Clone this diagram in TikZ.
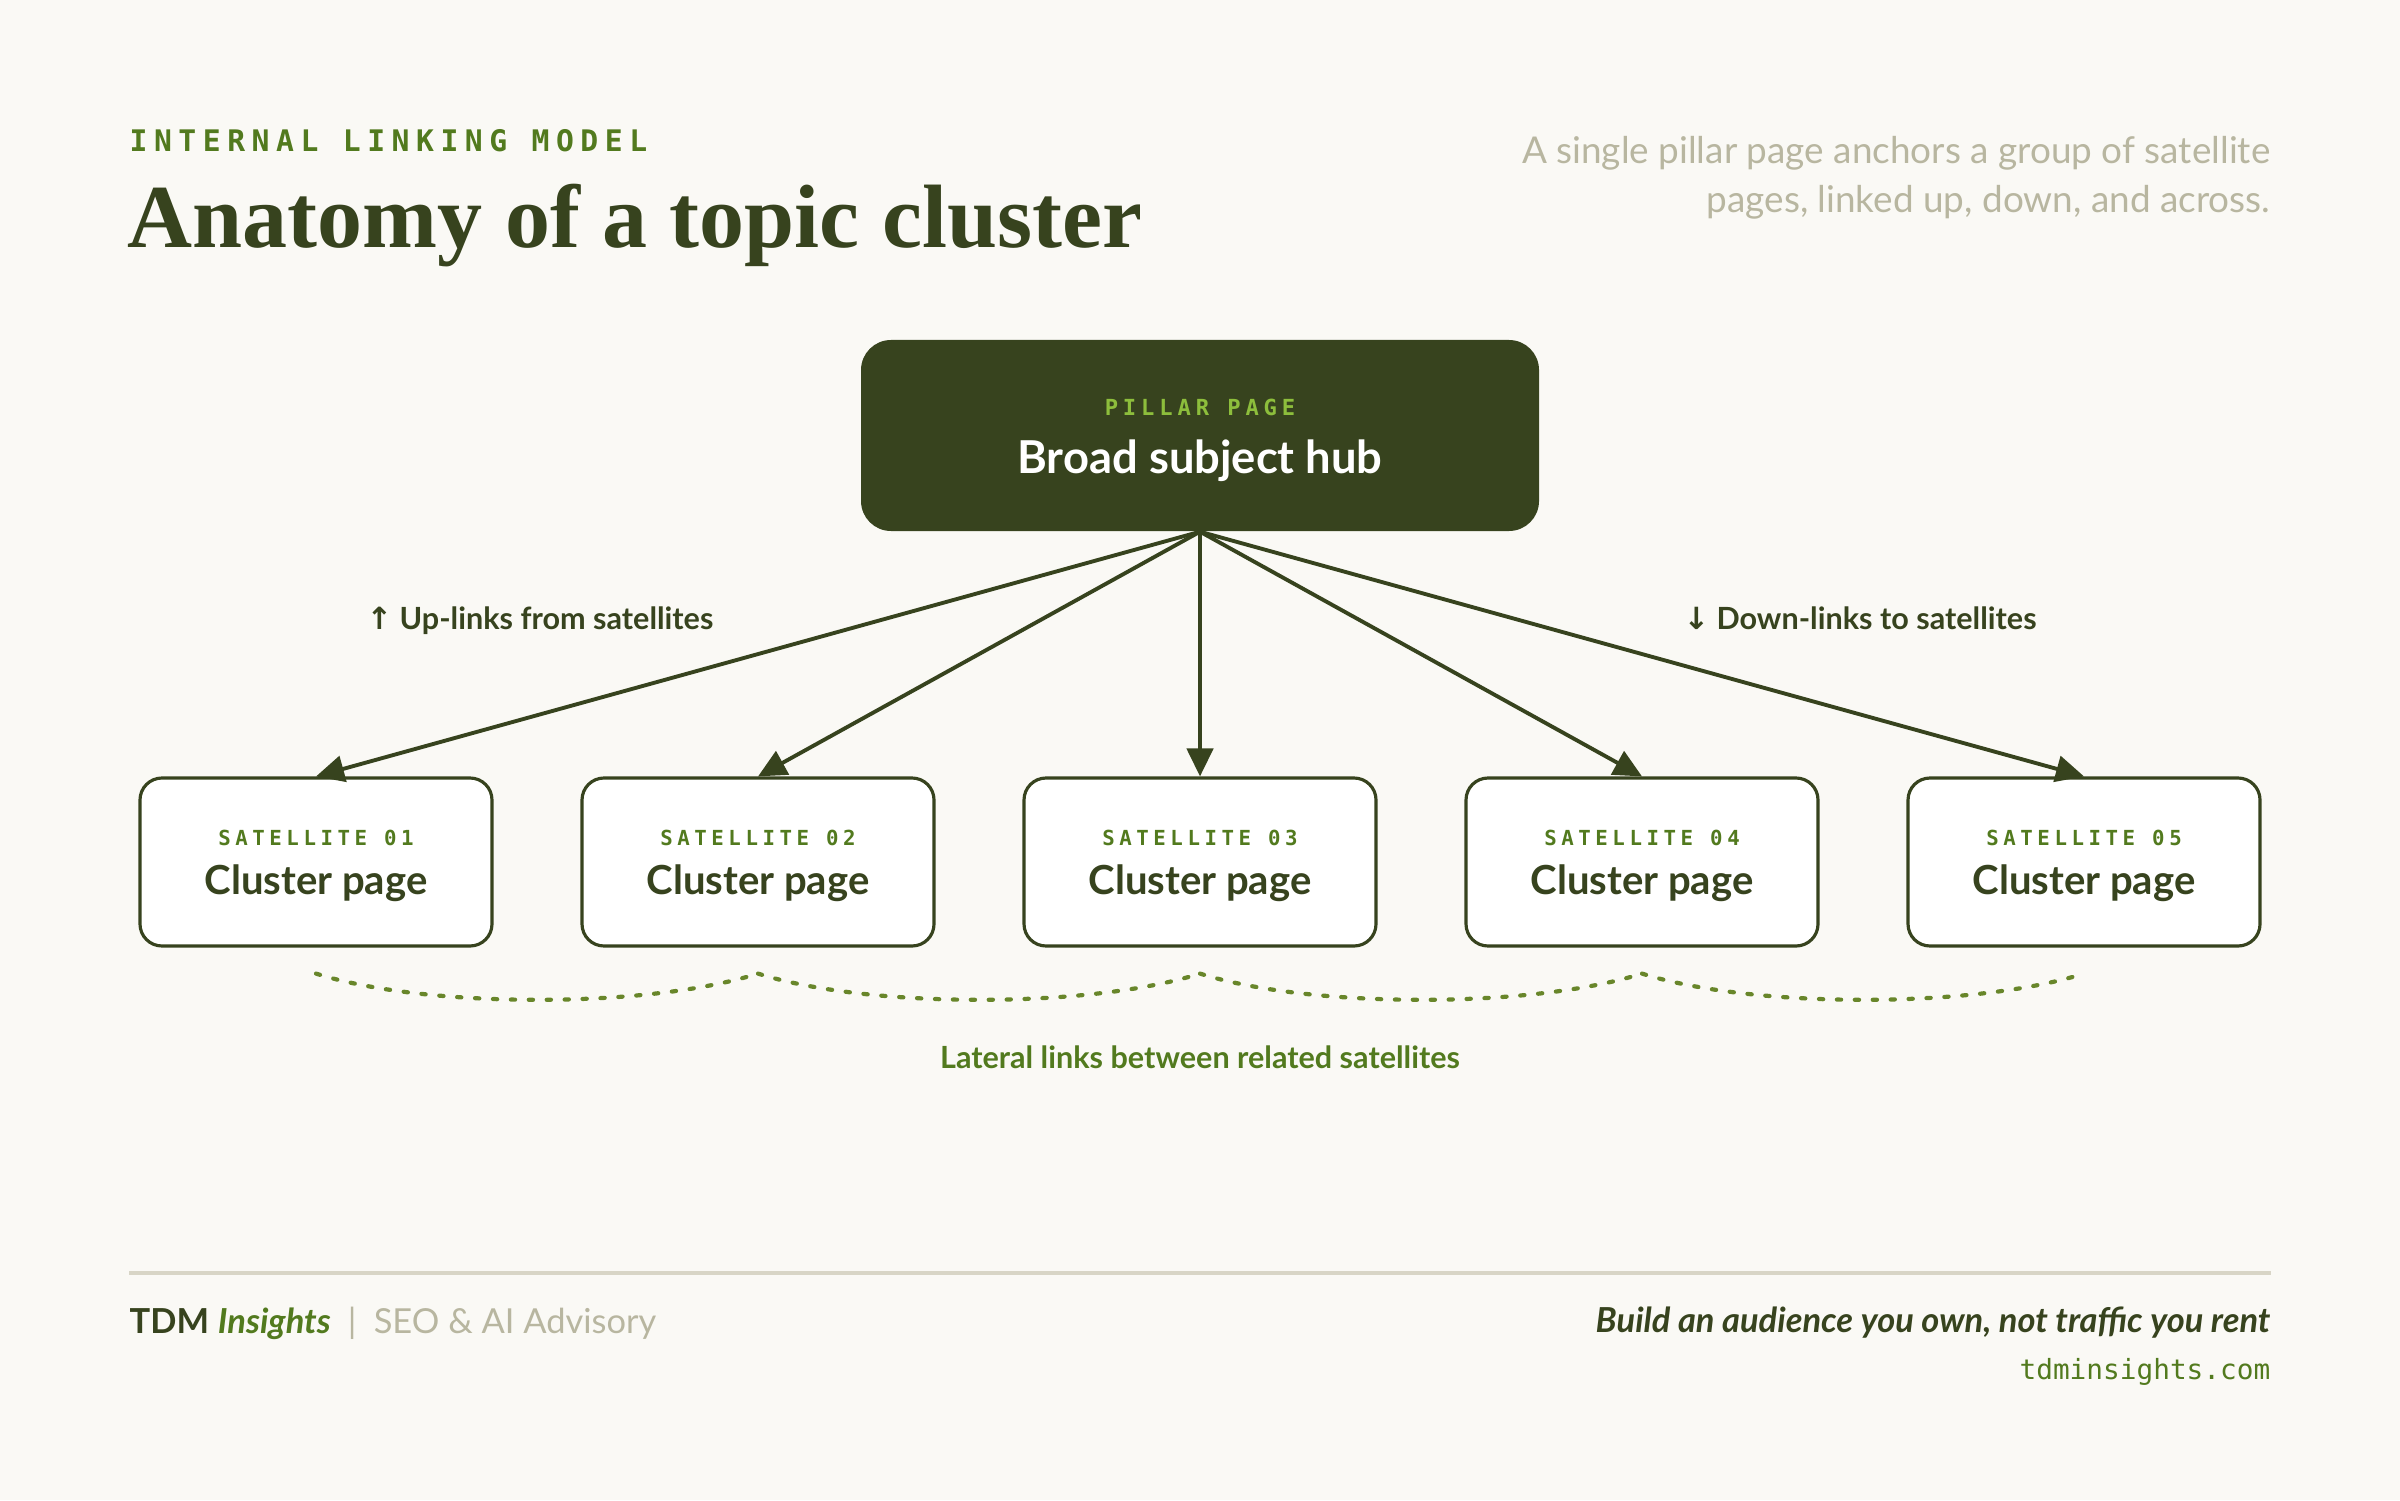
\documentclass[tikz,border=0pt]{standalone}
\usepackage{fontspec}
\setmainfont{Lato}
\newfontfamily\serifhead{Liberation Serif}
\newfontfamily\codefont{DejaVu Sans Mono}
\newfontfamily\trackfont[LetterSpace=22]{DejaVu Sans Mono}
\newfontfamily\symfont{DejaVu Sans}
\usetikzlibrary{arrows.meta}
\definecolor{paper}{HTML}{FAF9F5}
\definecolor{forest}{HTML}{37431E}
\definecolor{leaf}{HTML}{527A1E}
\definecolor{moss}{HTML}{68862A}
\definecolor{lime}{HTML}{8DBE3C}
\definecolor{sage}{HTML}{B8B6A0}
\definecolor{rule}{HTML}{D8D5C6}

\begin{document}
\begin{tikzpicture}[every node/.style={inner sep=0},
    pillarbox/.style={fill=forest,rounded corners=0.3cm,minimum width=6.78cm,minimum height=1.91cm},
    satbox/.style={draw=forest,fill=white,line width=0.9pt,rounded corners=0.22cm,minimum width=3.52cm,minimum height=1.68cm},
    tag/.style={font=\trackfont\bfseries\fontsize{5.9}{7}\selectfont,text=leaf,anchor=base},
    pagename/.style={font=\bfseries\fontsize{11.4}{13}\selectfont,text=forest,anchor=base},
    note/.style={font=\bfseries\fontsize{8.7}{10}\selectfont,text=forest,anchor=base},
    link/.style={draw=forest,line width=1.1pt,-{Triangle[length=8pt,width=7.5pt]}},
    lateral/.style={draw=moss,line width=1.2pt,line cap=round,dash pattern=on 1.2pt off 3.9pt}]
  \fill[paper] (0,0) rectangle (24,15);
  \useasboundingbox (0,0) rectangle (24,15);

  \node[anchor=base west,font=\trackfont\bfseries\fontsize{8.45}{10}\selectfont,text=leaf] (kicker) at (1.29,13.48) {INTERNAL LINKING MODEL};
  \node[anchor=base west,font=\serifhead\bfseries\fontsize{25.6}{30}\selectfont,text=forest] (title) at (1.27,12.52) {Anatomy of a topic cluster};
  \node[anchor=base east,font=\fontsize{10.5}{12}\selectfont,text=sage] (sub1) at (22.71,13.36) {A single pillar page anchors a group of satellite};
  \node[anchor=base east,font=\fontsize{10.5}{12}\selectfont,text=sage] (sub2) at (22.71,12.87) {pages, linked up, down, and across.};

  \node[pillarbox] (pillar) at (12,10.645) {};
  \node[anchor=base,font=\trackfont\bfseries\fontsize{6.3}{8}\selectfont,text=lime] (pillartag) at (12,10.85) {PILLAR PAGE};
  \node[anchor=base,font=\bfseries\fontsize{12.9}{15}\selectfont,text=white] (pillarname) at (12,10.27) {Broad subject hub};

  \foreach \i/\x in {1/3.16,2/7.58,3/12,4/16.42,5/20.84} {
    \node[satbox] (s\i) at (\x,6.38) {};
    \node[tag] (s\i tag) at (\x,6.55) {SATELLITE 0\i};
    \node[pagename] (s\i name) at (\x,6.06) {Cluster page};
    \draw[link] (pillar.south) -- (s\i.north);
  }

  \node[note] (uplinks) at (5.4,8.71) {{\symfont\bfseries ↑} Up-links from satellites};
  \node[note] (downlinks) at (18.6,8.71) {{\symfont\bfseries ↓} Down-links to satellites};

  \foreach \i/\j in {1/2,2/3,3/4,4/5}
    \draw[lateral] ([yshift=-0.26cm]s\i.south) .. controls +(1.1,-0.35) and +(-1.1,-0.35) .. ([yshift=-0.26cm]s\j.south);
  \node[note,text=leaf] (lateralnote) at (12,4.32) {Lateral links between related satellites};

  \draw[rule,line width=1.2pt] (1.29,2.27) coordinate (ruleL) -- (22.71,2.27) coordinate (ruleR);
  \node[anchor=base west,font=\fontsize{9.8}{12}\selectfont] (brand) at (1.29,1.67)
    {\textcolor{forest}{\bfseries TDM} \textcolor{leaf}{\bfseries\itshape Insights}\hspace{0.5em}\textcolor{sage}{|\hspace{0.5em}SEO \& AI Advisory}};
  \node[anchor=base east,font=\bfseries\itshape\fontsize{9.8}{12}\selectfont,text=forest] (motto) at (22.71,1.68) {Build an audience you own, not traffic you rent};
  \node[anchor=base east,font=\codefont\fontsize{7.9}{10}\selectfont,text=leaf] (site) at (22.71,1.21) {tdminsights.com};
\end{tikzpicture}
\end{document}
